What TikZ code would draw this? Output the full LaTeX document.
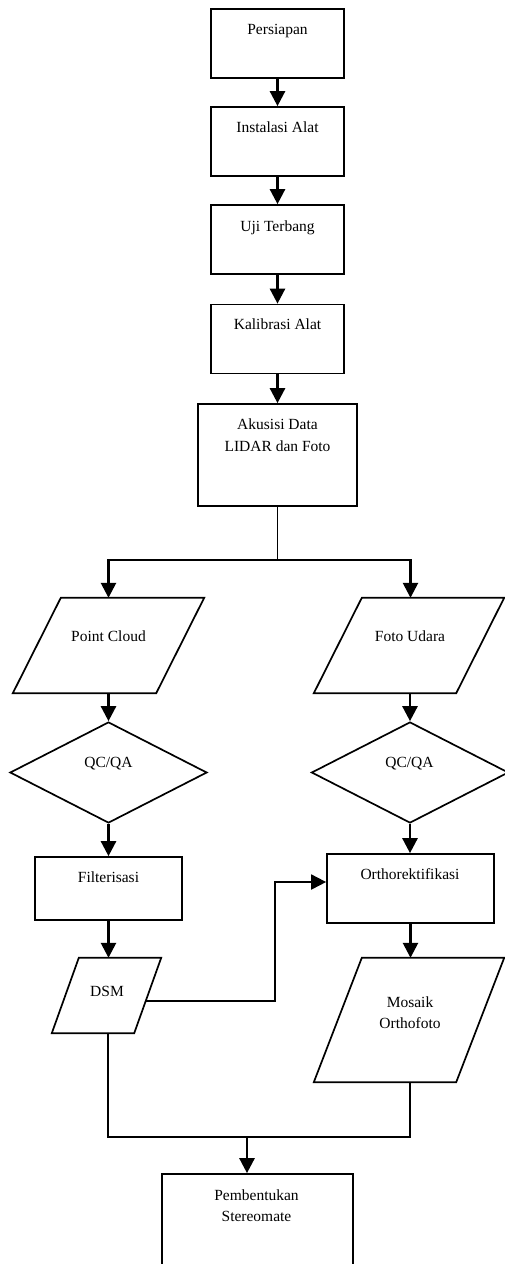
\documentclass[tikz,border=0pt]{standalone}
\usepackage{fontspec}
\setmainfont{Liberation Serif}
\usetikzlibrary{arrows.meta,shapes.geometric,calc}

% outline of a slanted input/output box around an invisible frame node
\newcommand\slantframe[2]{%
  \draw[outline] ($(#1.north west)+(#2,0)$) -- (#1.north east)
    -- ($(#1.south east)+(-#2,0)$) -- (#1.south west) -- cycle;}

\begin{document}
\begin{tikzpicture}[x=1pt,y=-1pt,
  outline/.style={line width=1.7pt, line join=miter},
  stepbox/.style={draw, outline, inner sep=0pt, minimum width=133pt, minimum height=69pt},
  frame/.style={inner sep=0pt},
  decision/.style={draw, outline, diamond, inner sep=0pt, minimum width=197pt, minimum height=101pt},
  txt/.style={inner sep=0pt, anchor=base, font=\fontsize{15.5}{21.5}\selectfont},
  tip/.style={-{Triangle[length=15pt,width=15pt]}},
  flow/.style={line width=2.6pt, tip},
  plainline/.style={line width=1.8pt},
]
\useasboundingbox (0,0) rectangle (504,1264);

% main preparation chain
\node[stepbox] (b1) at (277.5,43.5) {};
\node[stepbox] (b2) at (277.5,141.5) {};
\node[stepbox] (b3) at (277.5,239.5) {};
\node[stepbox] (b4) at (277.5,339) {};
\node[stepbox, minimum width=159pt, minimum height=102pt] (b5) at (277.5,455) {};

\node[txt] (t1) at (277.5,34) {Persiapan};
\node[txt] (t2) at (277.5,132) {Instalasi Alat};
\node[txt] (t3) at (277.5,231) {Uji Terbang};
\node[txt] (t4) at (277.5,329.5) {Kalibrasi Alat};
\node[txt] (t5a) at (277.5,429) {Akusisi Data};
\node[txt] (t5b) at (277.5,451) {LIDAR dan Foto};

% data products
\node[frame, minimum width=191pt, minimum height=95pt] (pc) at (108.5,645.5) {};
\node[frame, minimum width=190pt, minimum height=95pt] (fu) at (409,645.5) {};
\node[frame, minimum width=109pt, minimum height=75pt] (dsm) at (106.5,995.5) {};
\node[frame, minimum width=190pt, minimum height=124pt] (mo) at (409,1020) {};
\slantframe{pc}{48}
\slantframe{fu}{48}
\slantframe{dsm}{27}
\slantframe{mo}{48}

\node[txt] (tpc) at (108.5,641) {Point Cloud};
\node[txt] (tfu) at (410,641) {Foto Udara};
\node[txt] (tdsm) at (107,996) {DSM};
\node[txt] (tmoa) at (410,1007) {Mosaik};
\node[txt] (tmob) at (410,1028) {Orthofoto};

% quality checks
\node[decision] (q1) at (108.5,772.5) {};
\node[decision] (q2) at (410,772.5) {};
\node[txt] (tq1) at (108.5,767) {QC/QA};
\node[txt] (tq2) at (409.5,767) {QC/QA};

% processing
\node[stepbox, minimum width=147pt, minimum height=63pt] (f) at (108.5,888.5) {};
\node[stepbox, minimum width=167pt, minimum height=69pt] (o) at (410.5,888.5) {};
\node[stepbox, minimum width=191pt, minimum height=126pt] (pb) at (257.5,1237) {};
\node[txt] (tf) at (108.5,882) {Filterisasi};
\node[txt] (to) at (410,879) {Orthorektifikasi};
\node[txt] (tpba) at (256.5,1200) {Pembentukan};
\node[txt] (tpbb) at (256.5,1221) {Stereomate};

% connectors
\draw[flow] (b1.south) -- (b2.north);
\draw[flow] (b2.south) -- (b3.north);
\draw[flow] (b3.south) -- (b4.north);
\draw[flow] (b4.south) -- (b5.north);

\coordinate (split) at (277.5,560);
\draw[plainline] (b5.south) -- (split);
\draw[flow] (split) -| (pc.north);
\draw[flow] (split) -| ([xshift=1.5pt]fu.north);

\draw[flow] (pc.south) -- (q1.north);
\draw[flow] (q1.south) -- (f.north);
\draw[flow] (f.south) -- (f.south |- dsm.north);

\draw[flow] ([xshift=1pt]fu.south) -- (q2.north);
\draw[flow] (q2.south) -- (q2.south |- o.north);
\draw[flow] (o.south) -- (o.south |- mo.north);

\coordinate (dsmR) at (145.5,1001);
\coordinate (oin) at ($(o.west)+(0,-6.5)$);
\draw[plainline, tip] (dsmR) -- ++(129.5,0) |- (oin);

\coordinate (merge) at (247,1137);
\draw[plainline] ([xshift=1.5pt]dsm.south) |- ([xshift=1pt]mo.south |- merge) -- ([xshift=1pt]mo.south);
\draw[flow] (merge) -- (merge |- pb.north);
\end{tikzpicture}
\end{document}
